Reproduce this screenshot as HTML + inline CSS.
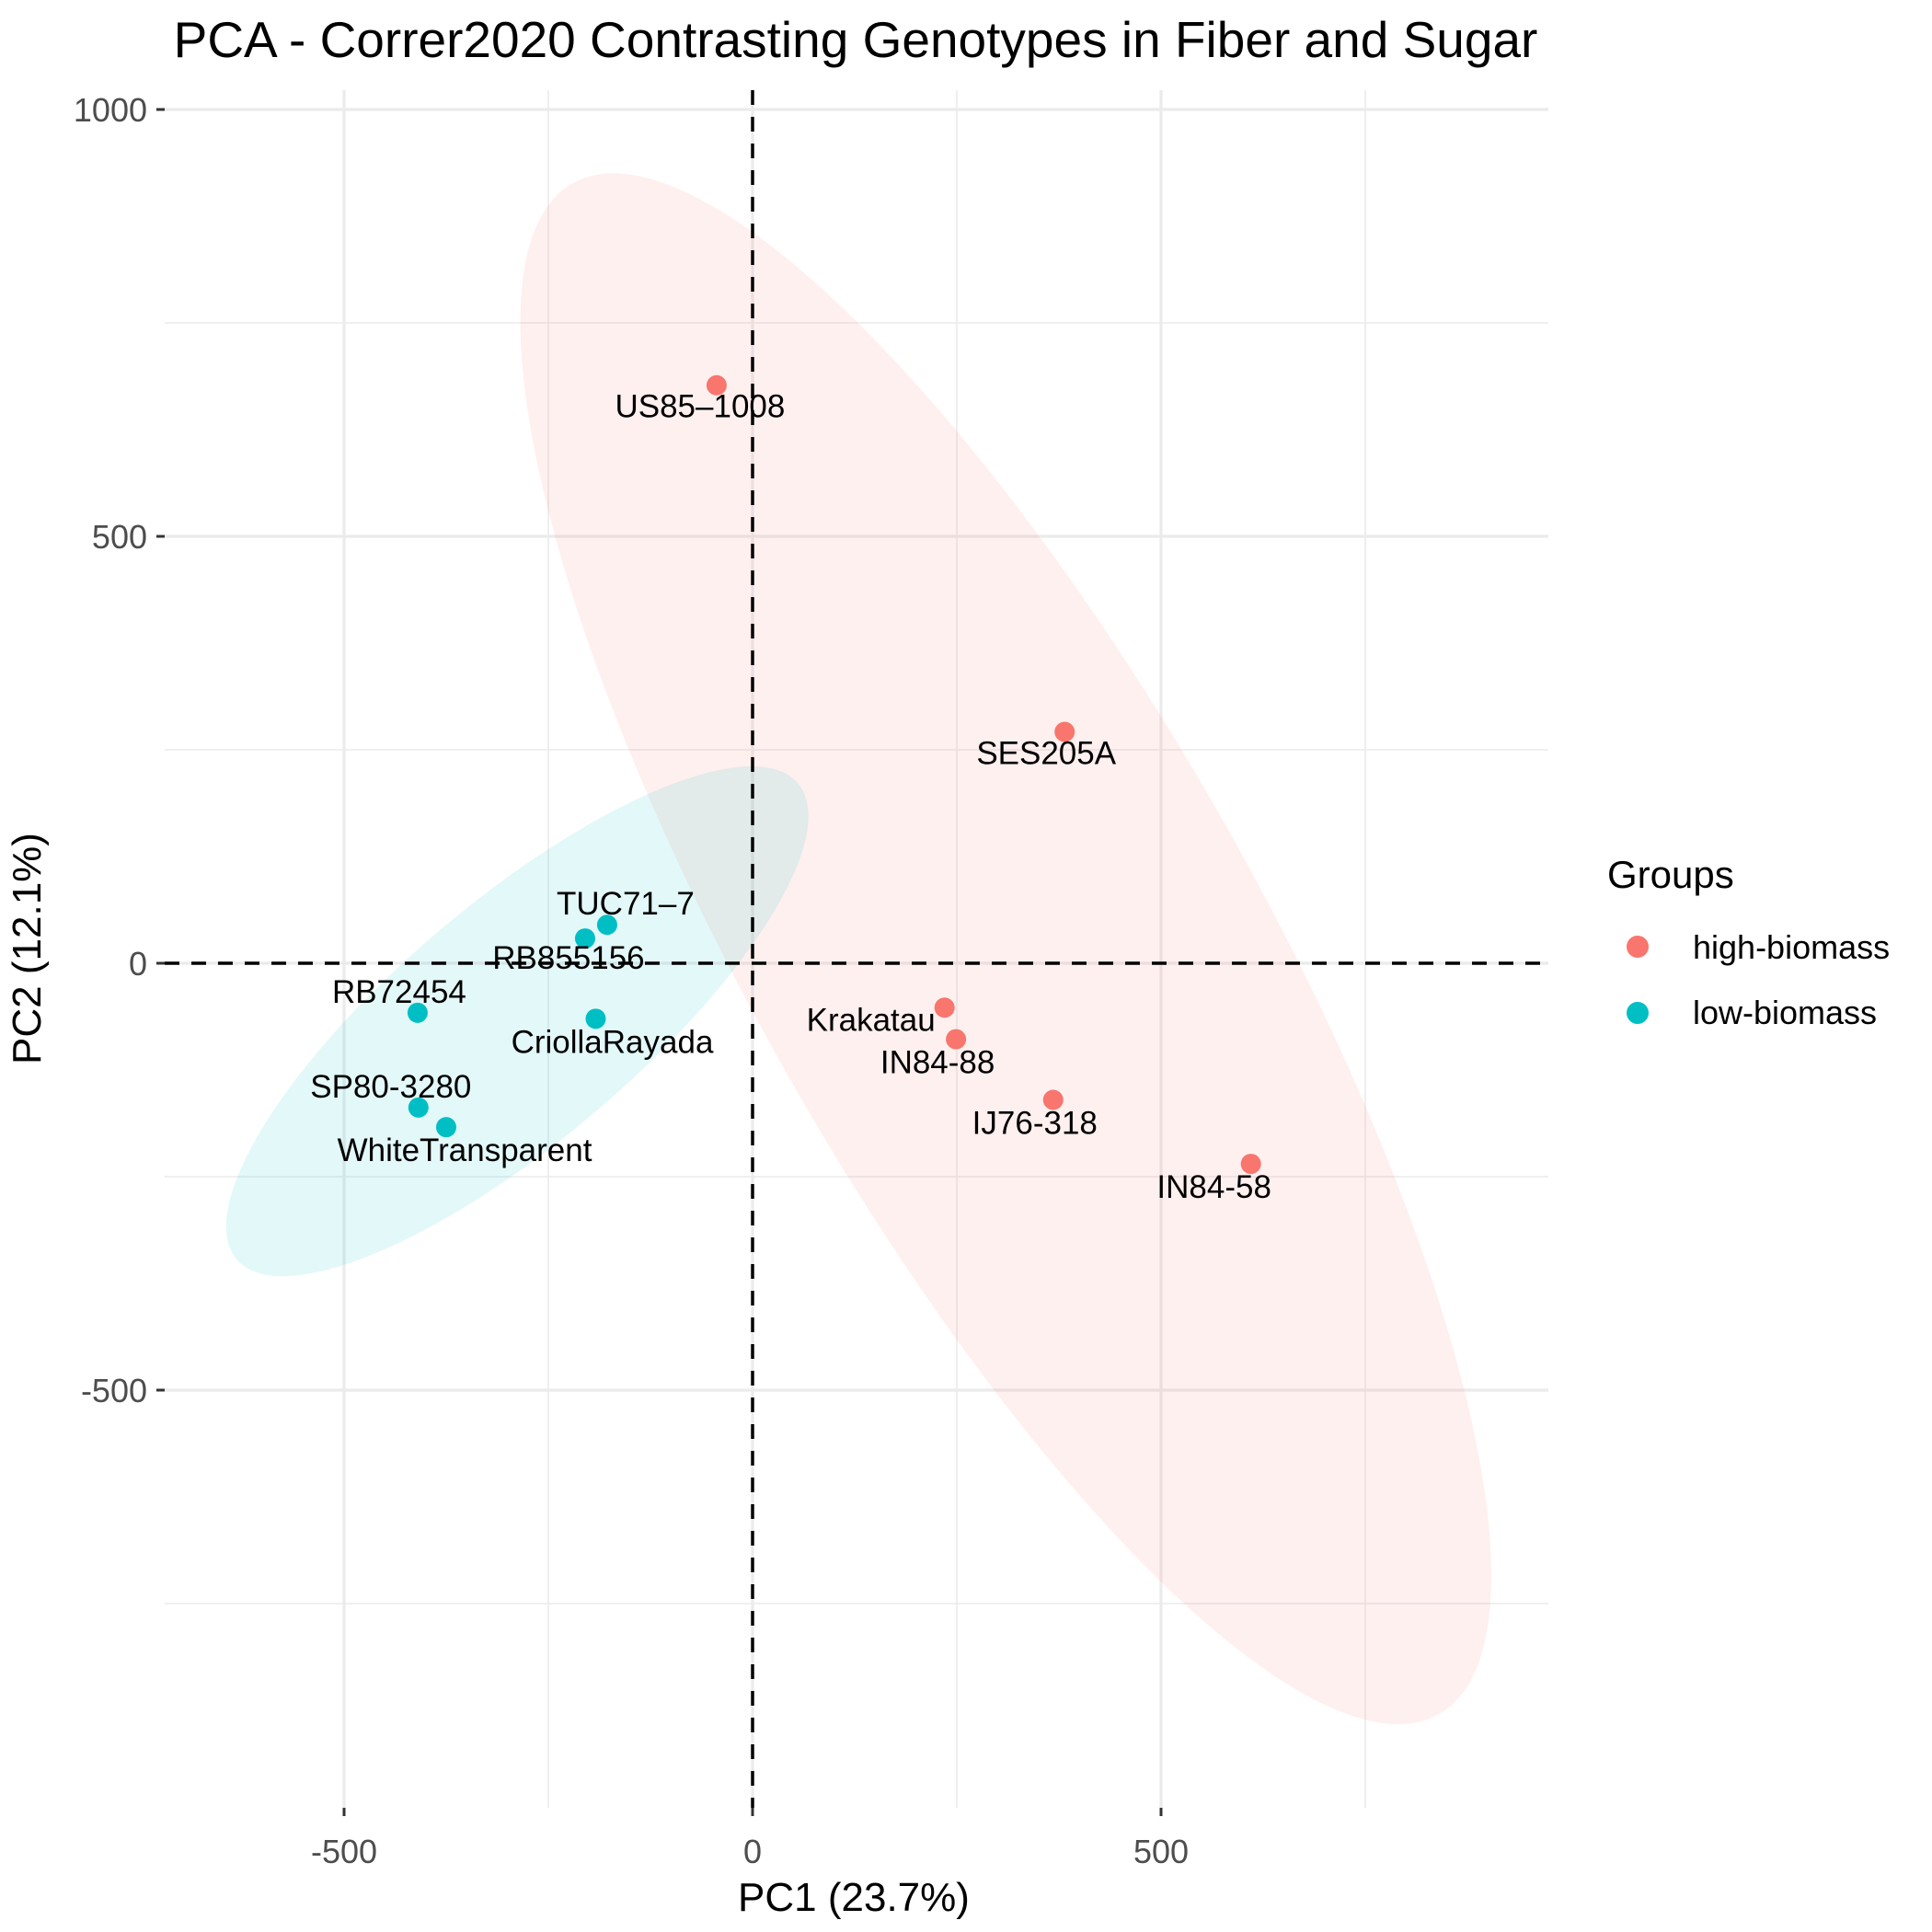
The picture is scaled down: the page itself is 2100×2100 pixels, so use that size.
<!DOCTYPE html>
<html><head><meta charset="utf-8"><style>
html,body{margin:0;padding:0;background:#fff;}
svg{display:block;font-family:"Liberation Sans",Arial,sans-serif;}
</style></head><body>
<svg id="chart" width="2100" height="2100" viewBox="0 0 2100 2100" xmlns="http://www.w3.org/2000/svg">
<rect width="2100" height="2100" fill="#fff"/>
<text x="930" y="62" text-anchor="middle" font-size="55" fill="#000">PCA - Correr2020 Contrasting Genotypes in Fiber and Sugar</text>
<g id="grid"></g>
<g id="ellipses"></g>
<g id="refs"></g>
<g id="points"></g>
<g id="labels"></g>
<g id="axes"></g>
<text x="928" y="2077" text-anchor="middle" font-size="44" fill="#000">PC1 (23.7%)</text>
<text transform="translate(44,1031) rotate(-90)" text-anchor="middle" font-size="44" fill="#000">PC2 (12.1%)</text>
<g>
<text x="1747" y="965" font-size="42" fill="#000">Groups</text>
<circle cx="1780" cy="1029" r="12" fill="#F8766D"/>
<text x="1840" y="1042" font-size="36" fill="#000">high-biomass</text>
<circle cx="1780" cy="1101" r="12" fill="#00BFC4"/>
<text x="1840" y="1113" font-size="36" fill="#000">low-biomass</text>
</g>
</svg>
<script>
const sampleNames = ["US85\u20131008","SES205A","Krakatau","IN84-88","IJ76-318","IN84-58","TUC71\u20137","RB855156","CriollaRayada","RB72454","SP80-3280","WhiteTransparent"];
const groups = ["high","high","high","high","high","high","low","low","low","low","low","low"];
const pc1Values = [-44,382,235,249,368,610,-178,-205,-192,-410,-409,-375];
const pc2Values = [677,271,-52,-89,-160,-235,45,29,-65,-58,-169,-192];
const xTicks = [-500,0,500];
const yTicks = [-500,0,500,1000];
const xMinor = [-250,250,750];
const yMinor = [-750,-250,250,750];
const ellipseCentersX = [310,-288];
const ellipseCentersY = [17,-68];

const P = {l:179,r:1683,t:98,b:1965};
const X0=818, XK=0.888, Y0=1047, YK=0.928;
function sx(v){return X0+v*XK;}
function sy(v){return Y0-v*YK;}
const NS="http://www.w3.org/2000/svg";
function mk(tag,attrs,parent){const e=document.createElementNS(NS,tag);for(const k in attrs)e.setAttribute(k,attrs[k]);parent.appendChild(e);return e;}

const grid=document.getElementById('grid');
xMinor.forEach(v=>{const e=mk('line',{x1:sx(v),x2:sx(v),y1:P.t,y2:P.b,stroke:'#ebebeb','stroke-width':1.6},grid);

});
yMinor.forEach(v=>{const e=mk('line',{x1:P.l,x2:P.r,y1:sy(v),y2:sy(v),stroke:'#ebebeb','stroke-width':1.6},grid);

});
xTicks.forEach(v=>{const e=mk('line',{x1:sx(v),x2:sx(v),y1:P.t,y2:P.b,stroke:'#ebebeb','stroke-width':3.2},grid);

});
yTicks.forEach(v=>{const e=mk('line',{x1:P.l,x2:P.r,y1:sy(v),y2:sy(v),stroke:'#ebebeb','stroke-width':3.2},grid);

});

const ell=document.getElementById('ellipses');
const ellStyle=[{a:956,b:274,ang:60.5,fill:'#F8766D'},{a:400,b:130,ang:-40.3,fill:'#00BFC4'}];
ellipseCentersX.forEach((cx,i)=>{const s=ellStyle[i];const px=sx(cx),py=sy(ellipseCentersY[i]);
const e=mk('ellipse',{cx:px,cy:py,rx:s.a,ry:s.b,transform:`rotate(${s.ang} ${px} ${py})`,fill:s.fill,'fill-opacity':0.11},ell);

});

const refs=document.getElementById('refs');
let e1=mk('line',{x1:sx(0),x2:sx(0),y1:P.t,y2:P.b,stroke:'#000','stroke-width':3.5,'stroke-dasharray':'16 13'},refs);


let e2=mk('line',{x1:P.l,x2:P.r,y1:sy(0),y2:sy(0),stroke:'#000','stroke-width':3.5,'stroke-dasharray':'16 13'},refs);



const labelOff=[[-18,22],[-20,22],[-80,12],[-20,24],[-20,24],[-40,24],[20,-24],[-18,20],[18,24],[-20,-24],[-30,-24],[20,24]];
const pts=document.getElementById('points'), lab=document.getElementById('labels');
sampleNames.forEach((n,i)=>{const px=sx(pc1Values[i]),py=sy(pc2Values[i]);
const c=mk('circle',{cx:px,cy:py,r:11,fill:groups[i]==='high'?'#F8766D':'#00BFC4'},pts);


const t=mk('text',{x:px+labelOff[i][0],y:py+labelOff[i][1]+13,'text-anchor':'middle','font-size':35,fill:'#000'},lab);
t.textContent=n;

});

const axes=document.getElementById('axes');
xTicks.forEach(v=>{const l=mk('line',{x1:sx(v),x2:sx(v),y1:P.b,y2:P.b+9,stroke:'#333','stroke-width':3},axes);


const t=mk('text',{x:sx(v),y:P.b+60,'text-anchor':'middle','font-size':36,fill:'#4d4d4d'},axes);t.textContent=v;

});
yTicks.forEach(v=>{const l=mk('line',{x1:P.l-9,x2:P.l,y1:sy(v),y2:sy(v),stroke:'#333','stroke-width':3},axes);


const t=mk('text',{x:P.l-19,y:sy(v)+13,'text-anchor':'end','font-size':36,fill:'#4d4d4d'},axes);t.textContent=v;

});
</script>
</body></html>
